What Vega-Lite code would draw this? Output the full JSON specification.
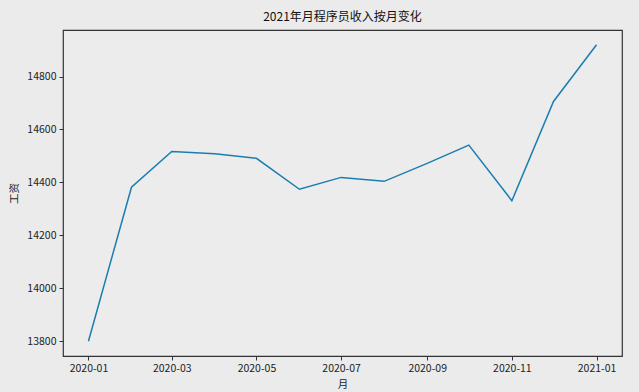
{
  "$schema": "https://vega.github.io/schema/vega-lite/v6.json",
  "width": 559,
  "height": 326,
  "autosize": {"type": "none"},
  "padding": {"left": 63, "top": 30, "right": 17, "bottom": 36},
  "background": "#ebebeb",
  "title": {"text": "2021年月程序员收入按月变化", "fontSize": 12, "font": "Noto Sans CJK SC", "fontWeight": "normal", "color": "#111111", "offset": 6},
  "config": {
    "view": {"fill": "#ececec", "stroke": "#333333", "strokeWidth": 1.2},
    "axis": {"grid": false, "domain": false, "tickColor": "#333333", "tickSize": 4, "labelFont": "Noto Sans CJK SC", "labelFontSize": 10.5, "labelColor": "#222222", "titleFont": "Noto Sans CJK SC", "titleFontSize": 10.5, "titleFontWeight": "normal", "titleColor": "#222222"}
  },
  "data": {"values": [
    {"月": "2020-01-01", "工资": 13800},
    {"月": "2020-02-01", "工资": 14382},
    {"月": "2020-03-01", "工资": 14517},
    {"月": "2020-04-01", "工资": 14508},
    {"月": "2020-05-01", "工资": 14491},
    {"月": "2020-06-01", "工资": 14374},
    {"月": "2020-07-01", "工资": 14419},
    {"月": "2020-08-01", "工资": 14404},
    {"月": "2020-09-01", "工资": 14472},
    {"月": "2020-10-01", "工资": 14541},
    {"月": "2020-11-01", "工资": 14331},
    {"月": "2020-12-01", "工资": 14706},
    {"月": "2021-01-01", "工资": 14920}
  ]},
  "mark": {"type": "line", "color": "#1a7db0", "strokeWidth": 1.5},
  "encoding": {
    "x": {"field": "月", "type": "temporal",
      "scale": {"type": "utc", "nice": false, "domain": [{"year": 2019, "month": 12, "date": 13, "hours": 16, "utc": true}, {"year": 2021, "month": 1, "date": 19, "hours": 8, "utc": true}]},
      "axis": {"format": "%Y-%m", "values": [
        {"year": 2020, "month": 1, "date": 1, "utc": true},
        {"year": 2020, "month": 3, "date": 1, "utc": true},
        {"year": 2020, "month": 5, "date": 1, "utc": true},
        {"year": 2020, "month": 7, "date": 1, "utc": true},
        {"year": 2020, "month": 9, "date": 1, "utc": true},
        {"year": 2020, "month": 11, "date": 1, "utc": true},
        {"year": 2021, "month": 1, "date": 1, "utc": true}
      ], "labelAngle": 0, "labelPadding": 3, "titlePadding": 6, "labelFlush": false, "labelOverlap": false}},
    "y": {"field": "工资", "type": "quantitative",
      "scale": {"domain": [13744, 14976], "nice": false, "zero": false},
      "axis": {"format": "d", "values": [13800, 14000, 14200, 14400, 14600, 14800], "labelPadding": 3, "titlePadding": 7}}
  }
}
